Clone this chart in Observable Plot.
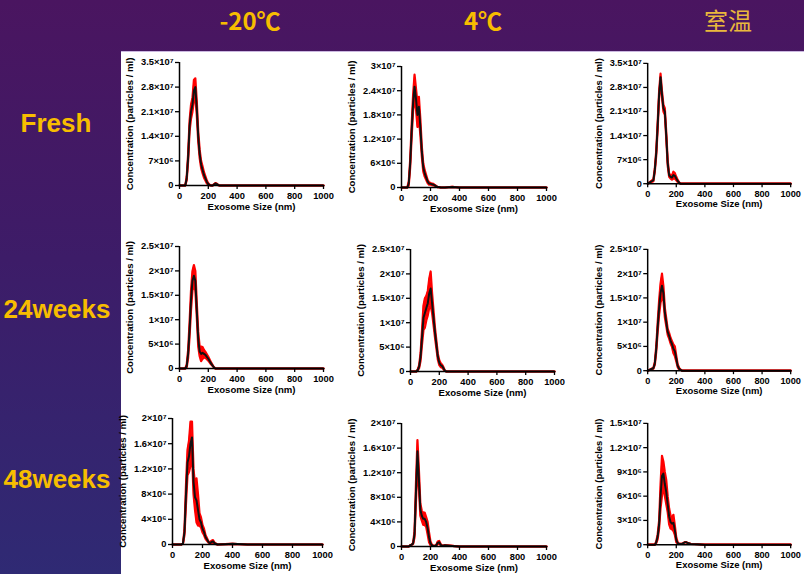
<!DOCTYPE html>
<html><head><meta charset="utf-8">
<script src="https://cdn.jsdelivr.net/npm/d3@7"></script>
<script src="https://cdn.jsdelivr.net/npm/@observablehq/plot@0.6"></script>
<style>
html,body{margin:0;padding:0;background:#2f2a74;}
#slide{position:relative;width:804px;height:574px;overflow:hidden;background:linear-gradient(180deg,#4a1560 0%,#3d1c68 45%,#2f2a74 100%);}
#panel{position:absolute;left:121px;top:51px;width:683px;height:523px;background:#fff;border-top:1px solid #cbb8e0;box-sizing:border-box;}
.hdr{position:absolute;transform:translate(-50%,-50%);color:#f7bd00;font-weight:bold;white-space:nowrap;line-height:1;}
.col{font-family:"Noto Sans CJK SC",sans-serif;font-size:24px;}
.row{font-family:"Liberation Sans",Arial,sans-serif;font-size:26px;}
.plot{position:absolute;}
.plot svg{overflow:visible;}
g[aria-label="x-axis label"] text, g[aria-label="y-axis label"] text{font-size:9.6px;}
</style></head>
<body><div id="slide">
<div id="panel"></div>
<div class="hdr col" style="left:250px;top:20px;">-20℃</div>
<div class="hdr col" style="left:483px;top:20px;">4℃</div>
<div class="hdr col" style="left:728px;top:20px;font-weight:normal;color:#eab83c;">室温</div>
<div class="hdr row" style="left:56px;top:123px;">Fresh</div>
<div class="hdr row" style="left:57px;top:309px;">24weeks</div>
<div class="hdr row" style="left:57px;top:479px;">48weeks</div>
</div>
<script>
// Particle size bins (nm)
const sizes = [0,40,50,60,70,80,90,100,110,120,130,140,150,160,170,180,190,200,210,220,230,240,250,260,270,280,300,350,400,500,600,700,800,900,1000];

// Mean concentration (×10^6 particles/ml) and error half-width, per panel
const m1 = [0,0,2,8,17,21,23,27,28,22,14,9,6,4.5,3,2,1,0.4,0.1,0,0,0.3,0.6,0.4,0.1,0,0,0,0,0,0,0,0,0,0];
const e1 = [0,0,0.5,1,1.5,2,2,3,2.5,2,1.5,1.2,1,1,0.8,0.6,0.4,0.2,0.1,0,0,0.1,0.1,0.1,0,0,0,0,0,0,0,0,0,0,0];
const m2 = [0,0,1,6,14,21,25,22,18,20,15,9,5,3.5,2.5,1.5,1,0.9,0.8,0.7,0.5,0.3,0.1,0.1,0,0,0,0.15,0,0,0,0,0,0,0];
const e2 = [0,0,0.5,1,1.5,2,3,2.5,3,2.5,2,1.2,1,0.8,0.6,0.4,0.3,0.2,0.2,0.2,0.1,0.1,0,0,0,0,0,0,0,0,0,0,0,0,0];
const m3 = [0,1,4,9,17,26,31,26,22,21,14,6,2.5,2,1.8,2.5,2.3,1.5,0.8,0.3,0,0,0,0,0,0,0,0,0,0,0,0,0,0,0];
const e3 = [0,0.3,0.5,0.8,1,1,1,1,1,1,1,0.8,0.5,0.5,0.6,1,0.8,0.5,0.3,0.1,0,0,0,0,0,0,0,0,0,0,0,0,0,0,0];
const m4 = [0,0,0.5,3,8,14,18,19,18,12,6,3.5,3,3.2,3,2.8,2.4,2,1.5,1,0.6,0.2,0,0,0,0,0,0,0,0,0,0,0,0,0];
const e4 = [0,0,0.3,0.8,1.5,2,2,2.2,2,1.5,1.5,1,1.5,1.2,0.8,0.6,0.5,0.4,0.3,0.2,0.1,0,0,0,0,0,0,0,0,0,0,0,0,0,0];
const m5 = [0,0,0.3,1,3,7,11,12,13,14,16,17,14,11,8,5.5,3,1.8,1.3,1.1,0.6,0.1,0,0,0,0,0,0,0,0,0,0,0,0,0];
const e5 = [0,0,0.1,0.3,0.8,1.5,2.5,3,2.5,2.5,3,3.5,2,1.5,1,0.8,0.6,0.5,0.4,0.3,0.2,0,0,0,0,0,0,0,0,0,0,0,0,0,0];
const m6 = [0,0.5,1.5,4.5,9,13,16,17.5,16,12,10,8,7.2,6.2,5.5,4.5,4,2.5,1,0.4,0.2,0,0,0,0,0,0,0,0,0,0,0,0,0,0];
const e6 = [0,0.1,0.3,0.6,1,1.5,2,2.5,1.5,1,0.8,0.6,0.6,0.6,0.6,0.9,1,0.6,0.3,0.2,0,0,0,0,0,0,0,0,0,0,0,0,0,0,0];
const m7 = [0,0,0,0,0.2,2,8,13,14,16,17,10,7.5,7,5.5,4,3.5,2.5,2,1.2,0.8,0.4,0.2,0.4,0.5,0.2,0,0.05,0.1,0,0,0,0,0,0];
const e7 = [0,0,0,0,0,0.5,1.5,2,2.5,3.5,2.5,2,2,3.5,2.5,1,0.8,0.6,0.5,0.3,0.2,0.1,0.1,0.2,0.2,0.1,0,0,0,0,0,0,0,0,0];
const m8 = [0,0,0,0.2,0.3,0.5,2,9,15.5,11,6,5,4.5,4.5,4,3,1.5,0.5,0.2,0.1,0.1,0.2,0.6,0.7,0.3,0.1,0.2,0.1,0,0,0,0,0,0,0];
const e8 = [0,0,0,0,0,0.1,0.5,1.5,1.8,1.5,1,0.8,1,1,0.8,1,0.8,0.3,0.1,0,0,0.1,0.2,0.2,0.1,0,0,0,0,0,0,0,0,0,0];
const m9 = [0,0,0,0.3,1,2.5,6,8.5,8.8,7.5,6.5,5,3.5,2.8,2.6,2.7,1.8,0.6,0.2,0.1,0.1,0.1,0.2,0.3,0.3,0.2,0.1,0.05,0,0,0,0,0,0,0];
const e9 = [0,0,0,0.1,0.3,0.5,1.5,2.5,1.5,1.5,1.5,1,1,0.8,0.7,1,0.6,0.3,0.1,0,0,0,0,0,0,0,0,0,0,0,0,0,0,0,0];

// Tick values and labels
const xTicks = [0,200,400,600,800,1000];
const xTickLabels = ["0","200","400","600","800","1000"];
const yTicksA = [0,7,14,21,28,35];
const yLabelsA = ["0","7×10⁶","1.4×10⁷","2.1×10⁷","2.8×10⁷","3.5×10⁷"];
const yTicksB = [0,6,12,18,24,30];
const yLabelsB = ["0","6×10⁶","1.2×10⁷","1.8×10⁷","2.4×10⁷","3×10⁷"];
const yTicksC = [0,5,10,15,20,25];
const yLabelsC = ["0","5×10⁶","1×10⁷","1.5×10⁷","2×10⁷","2.5×10⁷"];
const yTicksD = [0,4,8,12,16,20];
const yLabelsD = ["0","4×10⁶","8×10⁶","1.2×10⁷","1.6×10⁷","2×10⁷"];
const yTicksE = [0,3,6,9,12,15];
const yLabelsE = ["0","3×10⁶","6×10⁶","9×10⁶","1.2×10⁷","1.5×10⁷"];

const xTitle = "Exosome Size (nm)";
const yTitle = "Concentration (particles / ml)";

// Layout of each panel (pixel frame on the slide)
const layout = [
  {mean:m1, err:e1, ticks:yTicksA, labels:yLabelsA, x0:179, x1:323, yTop:62, y0:185},
  {mean:m2, err:e2, ticks:yTicksB, labels:yLabelsB, x0:401, x1:546, yTop:66, y0:187},
  {mean:m3, err:e3, ticks:yTicksA, labels:yLabelsA, x0:648, x1:793, yTop:63, y0:185},
  {mean:m4, err:e4, ticks:yTicksC, labels:yLabelsC, x0:179, x1:323, yTop:246, y0:368},
  {mean:m5, err:e5, ticks:yTicksC, labels:yLabelsC, x0:410, x1:554, yTop:249, y0:371},
  {mean:m6, err:e6, ticks:yTicksC, labels:yLabelsC, x0:648, x1:793, yTop:249, y0:372},
  {mean:m7, err:e7, ticks:yTicksD, labels:yLabelsD, x0:172, x1:322, yTop:418, y0:544},
  {mean:m8, err:e8, ticks:yTicksD, labels:yLabelsD, x0:401, x1:546, yTop:423, y0:546},
  {mean:m9, err:e9, ticks:yTicksE, labels:yLabelsE, x0:648, x1:793, yTop:423, y0:546}
];

const slide = document.getElementById("slide");
const mL = 60, mR = 14, mT = 8, mB = 30;

for (const p of layout) {
  const rows = sizes.map((s, i) => ({
    size: s,
    mean: p.mean[i],
    lo: Math.max(0, p.mean[i] - p.err[i]),
    hi: p.mean[i] + p.err[i]
  }));
  const chart = Plot.plot({
    width: (p.x1 - p.x0) + mL + mR,
    height: (p.y0 - p.yTop) + mT + mB,
    marginLeft: mL, marginRight: mR, marginTop: mT, marginBottom: mB,
    x: {domain: [0, 1000]},
    y: {domain: [0, p.ticks[p.ticks.length - 1]]},
    style: {fontFamily: "'Liberation Sans', Arial, sans-serif", fontWeight: "bold", fontSize: "9.3px", background: "transparent", color: "#000"},
    marks: [
      Plot.areaY(rows, {x: "size", y1: "lo", y2: "hi", fill: "#ff0000"}),
      Plot.line(rows, {x: "size", y: "hi", stroke: "#ff0000", strokeWidth: 2.2}),
      Plot.line(rows, {x: "size", y: "lo", stroke: "#ff0000", strokeWidth: 2.2}),
      Plot.line(rows, {x: "size", y: "mean", stroke: "#111", strokeWidth: 2}),
      Plot.ruleX([0], {stroke: "#000", strokeWidth: 1.5}),
      Plot.ruleY([0], {stroke: "#000", strokeWidth: 1.5}),
      Plot.axisX({ticks: xTicks, tickFormat: d => xTickLabels[xTicks.indexOf(d)], tickSize: 4, tickPadding: 3, strokeWidth: 1.3,
        label: xTitle, labelAnchor: "center", labelArrow: "none", labelOffset: 24}),
      Plot.axisY({ticks: p.ticks, tickFormat: d => p.labels[p.ticks.indexOf(d)], tickSize: 4, tickPadding: 2, strokeWidth: 1.3,
        label: yTitle, labelAnchor: "center", labelArrow: "none", labelOffset: 53})
    ]
  });
  const wrap = document.createElement("div");
  wrap.className = "plot";
  wrap.style.left = (p.x0 - mL) + "px";
  wrap.style.top = (p.yTop - mT) + "px";
  wrap.appendChild(chart);
  slide.appendChild(wrap);
}
</script>
</body></html>
